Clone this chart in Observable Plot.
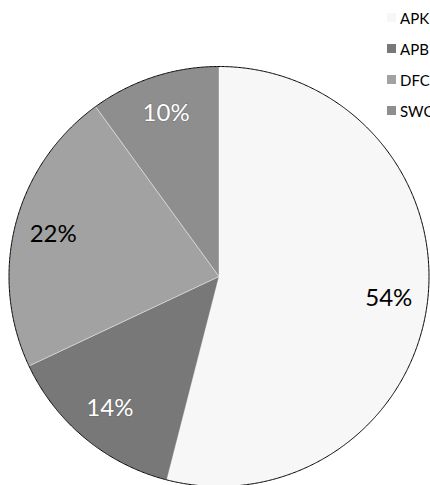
<!DOCTYPE html>
<html>
<head>
<meta charset="utf-8">
<script src="https://cdn.jsdelivr.net/npm/d3@7"></script>
<script src="https://cdn.jsdelivr.net/npm/@observablehq/plot@0.6"></script>
<style>
  html, body { margin: 0; padding: 0; background: #fff; width: 430px; height: 485px; overflow: hidden; }
  #wrap { position: relative; width: 430px; height: 485px; }
  #chart svg { display: block; }
  #legend { position: absolute; left: 387px; top: 2px; width: 90px; }
  #legend .lg-swatches { margin: 0 !important; }
  #legend .lg-swatch { height: 31px !important; padding: 0 !important; margin: 0 !important; display: flex; align-items: center; overflow: visible !important; font-size: 15px !important; font-family: Lato, sans-serif !important; }
  #legend .lg-swatch svg { margin-right: 4px !important; }
  #legend .lg-swatch > * { overflow: visible !important; text-overflow: clip !important; }
</style>
</head>
<body>
<div id="wrap">
  <div id="chart"></div>
  <div id="legend"></div>
</div>
<script>
const categories = ["APK", "APB", "DFC", "SWC"];
const shares = [54, 14, 22, 10];
const colors = ["#f7f7f7", "#787878", "#a2a2a2", "#8e8e8e"];
const darkLabels = ["APK", "DFC"];

const W = 430, H = 485;
const cx = 218.5, cy = 276, R = 210;

const arcs = d3.pie().sort(null).value(d => d)(shares)
  .map((a, i) => ({cat: categories[i], value: a.data, start: a.startAngle, end: a.endAngle, mid: (a.startAngle + a.endAngle) / 2}));

const slicePts = [];
for (const a of arcs) {
  slicePts.push({cat: a.cat, x: 0, y: 0});
  const n = Math.max(2, Math.ceil((a.end - a.start) / 0.005));
  for (let k = 0; k <= n; k++) {
    const t = a.start + (a.end - a.start) * k / n;
    slicePts.push({cat: a.cat, x: Math.sin(t), y: Math.cos(t)});
  }
  slicePts.push({cat: a.cat, x: 0, y: 0});
}
const circlePts = d3.range(0, 1001).map(k => {
  const t = 2 * Math.PI * k / 1000;
  return {x: Math.sin(t), y: Math.cos(t)};
});

const lr = 0.815;
const labelX = d => lr * Math.sin(d.mid);
const labelY = d => lr * Math.cos(d.mid);
const labelText = d => d.value + "%";

const colorScale = {type: "ordinal", domain: categories, range: colors};

const chart = Plot.plot({
  width: W,
  height: H,
  margin: 0,
  style: {background: "transparent", fontFamily: "Lato, sans-serif"},
  x: {type: "linear", domain: [-cx / R, (W - cx) / R], range: [0, W], axis: null},
  y: {type: "linear", domain: [-(H - cy) / R, cy / R], range: [H, 0], axis: null},
  color: colorScale,
  marks: [
    Plot.line(slicePts, {x: "x", y: "y", z: "cat", fill: "cat", stroke: "#ffffff", strokeWidth: 0.7, strokeOpacity: 0.55, curve: "linear"}),
    Plot.line(circlePts, {x: "x", y: "y", stroke: "#000", strokeWidth: 1}),
    Plot.text(arcs.filter(d => darkLabels.includes(d.cat)), {x: labelX, y: labelY, text: labelText, fill: "#000", fontSize: 24}),
    Plot.text(arcs.filter(d => !darkLabels.includes(d.cat)), {x: labelX, y: labelY, text: labelText, fill: "#fff", stroke: "#555", strokeWidth: 1.2, strokeOpacity: 0.5, fontSize: 24})
  ]
});
document.getElementById("chart").appendChild(chart);

const legend = Plot.legend({
  color: colorScale,
  legend: "swatches",
  columns: 1,
  swatchSize: 9,
  className: "lg",
  style: {fontSize: "15px", fontFamily: "Lato, sans-serif", color: "#000"}
});
document.getElementById("legend").appendChild(legend);
</script>
</body>
</html>
